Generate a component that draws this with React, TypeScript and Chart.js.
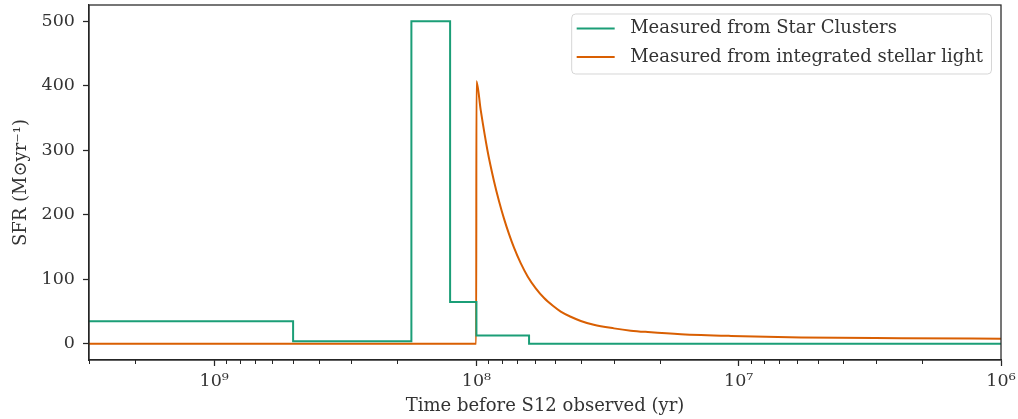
import React, { useEffect, useRef } from "react";
import { Chart, registerables } from "chart.js";

Chart.register(...registerables);

// ---- data ----
// Star-cluster SFR: piecewise-constant history (bin edges in yr, levels in Msun/yr)
const greenEdges = [3e9, 5e8, 1.77e8, 1.26e8, 1e8, 6.3e7, 1e6];
const greenValues = [35, 4, 500, 65, 13, 0];

// Integrated-light SFR (sampled from the curve)
const orangeTimes = [3e9, 1.002e8, 1.0e8, 9.63e7, 9.08e7, 8.57e7, 8.2e7, 7.85e7, 7.51e7, 7.19e7, 6.78e7, 6.37e7, 5.94e7, 5.52e7, 5.11e7, 4.77e7, 4.37e7, 4.0e7, 3.57e7, 2.99e7, 2.58e7, 2.22e7, 1.66e7, 1.07e7, 5.78e6, 2.4e6, 1e6];
const orangeValues = [0, 0, 407, 362, 300, 252, 221, 194, 170, 149, 125, 104, 86, 71, 59, 50, 42, 35.5, 29.5, 24, 20.5, 18.3, 15, 12.3, 10, 8.8, 8.0];

const seriesLabels = ["Measured from Star Clusters", "Measured from integrated stellar light"];
const seriesColors = ["#1b9e77", "#d95f02"];

const xMajorTicks = [1e9, 1e8, 1e7, 1e6];
const minorDecades = [1e6, 1e7, 1e8, 1e9];
const minorMults = [2, 3, 4, 5, 6, 7, 8, 9];
const yTicks = [0, 100, 200, 300, 400, 500];

const xTitle = "Time before S12 observed (yr)";
const yTitle = "SFR (M\u2299yr\u207B\u00B9)";

const AXIS = "#262626";
const TEXT = "#333333";
const FONT = "'DejaVu Serif', 'Liberation Serif', serif";
const FS_TICK = 17.5;
const FS_LABEL = 18;

const SUP: Record<string, string> = { "0": "\u2070", "1": "\u00B9", "2": "\u00B2", "3": "\u00B3", "4": "\u2074", "5": "\u2075", "6": "\u2076", "7": "\u2077", "8": "\u2078", "9": "\u2079", "-": "\u207B" };
const sup = (s: string) => s.split("").map((c) => SUP[c] ?? c).join("");

const framePlugin = {
  id: "frame",
  afterDraw(chart: any) {
    const { ctx, chartArea } = chart;
    ctx.save();
    ctx.strokeStyle = AXIS;
    ctx.lineWidth = 1.25;
    ctx.strokeRect(chartArea.left, chartArea.top, chartArea.right - chartArea.left, chartArea.bottom - chartArea.top);
    // minor ticks on x
    const xs = chart.scales.x;
    ctx.lineWidth = 1;
    for (const d of minorDecades) {
      for (const m of minorMults) {
        const v = m * d;
        if (v < xs.min || v > xs.max) continue;
        const px = Math.round(xs.getPixelForValue(v)) + 0.5;
        ctx.beginPath();
        ctx.moveTo(px, chartArea.bottom);
        ctx.lineTo(px, chartArea.bottom + 4);
        ctx.stroke();
      }
    }
    ctx.restore();
  },
};

const legendPlugin = {
  id: "boxLegend",
  afterDraw(chart: any) {
    const { ctx, chartArea } = chart;
    ctx.save();
    ctx.font = `${FS_LABEL}px ${FONT}`;
    const labels = chart.data.datasets.map((d: any) => d.label as string);
    const tw = Math.max(...labels.map((l: string) => ctx.measureText(l).width));
    const w = 59 + tw + 8;
    const h = 60;
    const x = chartArea.right - 10 - w;
    const y = chartArea.top + 8.5;
    ctx.beginPath();
    (ctx as any).roundRect(x + 0.5, y + 0.5, w, h, 4);
    ctx.fillStyle = "rgba(255,255,255,0.8)";
    ctx.fill();
    ctx.strokeStyle = "rgba(204,204,204,0.8)";
    ctx.lineWidth = 1;
    ctx.stroke();
    chart.data.datasets.forEach((d: any, i: number) => {
      const cy = y + 15 + i * 28.4;
      ctx.strokeStyle = d.borderColor;
      ctx.lineWidth = 2;
      ctx.beginPath();
      ctx.moveTo(x + 5.5, cy);
      ctx.lineTo(x + 43.5, cy);
      ctx.stroke();
      ctx.fillStyle = TEXT;
      ctx.textBaseline = "middle";
      ctx.textAlign = "left";
      ctx.fillText(d.label, x + 59, cy);
    });
    ctx.restore();
  },
};

export default function App() {
  const ref = useRef<HTMLCanvasElement>(null);
  useEffect(() => {
    document.body.style.margin = "0";
    const canvas = ref.current!;
    const greenPts = greenValues.map((v, i) => ({ x: greenEdges[i], y: v }));
    greenPts.push({ x: greenEdges[greenEdges.length - 1], y: greenValues[greenValues.length - 1] });
    const orangePts = orangeTimes.map((t, i) => ({ x: t, y: orangeValues[i] }));

    const chart = new Chart(canvas, {
      type: "line",
      data: {
        datasets: [
          {
            label: seriesLabels[0],
            data: greenPts,
            borderColor: seriesColors[0],
            backgroundColor: seriesColors[0],
            borderWidth: 2,
            pointRadius: 0,
            stepped: "before",
            fill: false,
          },
          {
            label: seriesLabels[1],
            data: orangePts,
            borderColor: seriesColors[1],
            backgroundColor: seriesColors[1],
            borderWidth: 2,
            pointRadius: 0,
            cubicInterpolationMode: "monotone",
            fill: false,
          },
        ],
      },
      options: {
        animation: false,
        responsive: false,
        devicePixelRatio: 1,
        layout: { padding: { top: 5, right: 17, left: 0, bottom: 0 } },
        plugins: {
          legend: { display: false },
          tooltip: { enabled: false },
        },
        scales: {
          x: {
            type: "logarithmic",
            min: 1e6,
            max: 3e9,
            reverse: true,
            afterBuildTicks: (s: any) => {
              s.ticks = xMajorTicks.map((v) => ({ value: v }));
            },
            afterFit: (s: any) => {
              s.height = 59;
              s.paddingLeft = 0;
              s.paddingRight = 0;
            },
            ticks: {
              autoSkip: false,
              maxRotation: 0,
              color: TEXT,
              font: { family: FONT, size: FS_TICK },
              padding: 5,
              callback: (v: any) => "10" + sup(String(Math.round(Math.log10(Number(v))))),
            },
            grid: {
              display: true,
              drawOnChartArea: false,
              drawTicks: true,
              tickLength: 6,
              tickWidth: 1.25,
              tickColor: AXIS,
            },
            border: { display: true, color: AXIS, width: 1.25 },
            title: {
              display: true,
              text: xTitle,
              color: TEXT,
              font: { family: FONT, size: FS_LABEL },
              padding: { top: 0, bottom: 2 },
            },
          },
          y: {
            type: "linear",
            min: -25,
            max: 525,
            afterBuildTicks: (s: any) => {
              s.ticks = yTicks.map((v) => ({ value: v }));
            },
            afterFit: (s: any) => {
              s.width = 89;
              s.paddingTop = 0;
              s.paddingBottom = 0;
            },
            ticks: {
              color: TEXT,
              font: { family: FONT, size: FS_TICK },
              padding: 8,
            },
            grid: {
              display: true,
              drawOnChartArea: false,
              drawTicks: true,
              tickLength: 6,
              tickWidth: 1.25,
              tickColor: AXIS,
            },
            border: { display: true, color: AXIS, width: 1.25 },
            title: {
              display: true,
              text: yTitle,
              color: TEXT,
              font: { family: FONT, size: FS_LABEL },
              padding: { top: 11, bottom: 0 },
            },
          },
        },
      },
      plugins: [framePlugin, legendPlugin],
    } as any);
    return () => chart.destroy();
  }, []);
  return (
    <div style={{ width: 1018, height: 419 }}>
      <canvas ref={ref} width={1018} height={419} style={{ display: "block" }} />
    </div>
  );
}
